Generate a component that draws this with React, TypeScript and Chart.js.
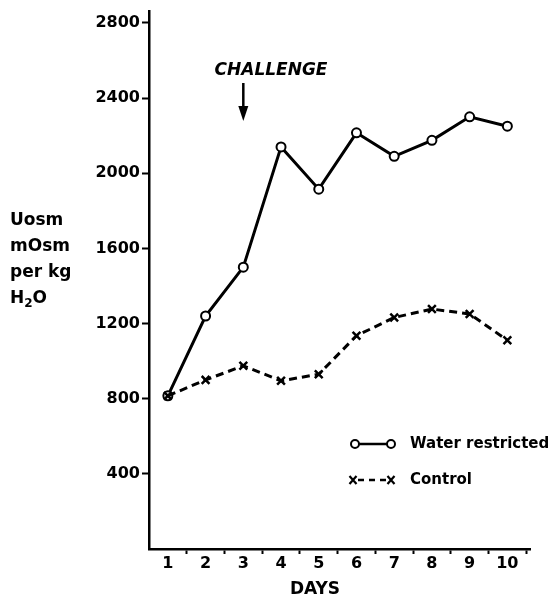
import React, { useEffect, useRef } from "react";
import { Chart, registerables } from "chart.js";

Chart.register(...registerables);

const days = [1, 2, 3, 4, 5, 6, 7, 8, 9, 10];
const waterRestricted = [815, 1240, 1500, 2140, 1915, 2215, 2090, 2175, 2300, 2250];
const control = [815, 900, 975, 895, 930, 1135, 1232, 1277, 1251, 1111];
const yTickValues = [0, 400, 800, 1200, 1600, 2000, 2400, 2800];
const xTickValues = [1, 1.5, 2, 2.5, 3, 3.5, 4, 4.5, 5, 5.5, 6, 6.5, 7, 7.5, 8, 8.5, 9, 9.5, 10, 10.5];
const yTitleLines = ["Uosm", "mOsm", "per kg"];
const challengeLabel = "CHALLENGE";
const challengeDay = 3;
const xTitle = "DAYS";
const legendLabels = ["Water restricted", "Control"];

const FONT = "'DejaVu Sans', sans-serif";

const annotations = {
  id: "annotations",
  afterDraw(chart: any) {
    const ctx = chart.ctx as CanvasRenderingContext2D;
    const xs = chart.scales.x;
    ctx.save();
    ctx.fillStyle = "#000";
    ctx.strokeStyle = "#000";

    // Y title
    ctx.font = `bold 17px ${FONT}`;
    ctx.textAlign = "left";
    ctx.textBaseline = "middle";
    const ys = [221, 247, 273];
    yTitleLines.forEach((t, i) => ctx.fillText(t, 10, ys[i]));
    // H2O
    let x = 10;
    const y4 = 299;
    ctx.fillText("H", x, y4);
    x += ctx.measureText("H").width;
    ctx.font = `bold 12px ${FONT}`;
    ctx.fillText("2", x, y4 + 5);
    x += ctx.measureText("2").width;
    ctx.font = `bold 17px ${FONT}`;
    ctx.fillText("O", x, y4);

    // X title
    ctx.font = `bold 17px ${FONT}`;
    ctx.textAlign = "center";
    ctx.fillText(xTitle, 315, 590);

    // Challenge
    const ax = xs.getPixelForValue(challengeDay);
    ctx.font = `italic bold 17px ${FONT}`;
    ctx.fillText(challengeLabel, 271, 71);
    ctx.lineWidth = 2.5;
    ctx.beginPath();
    ctx.moveTo(ax, 83);
    ctx.lineTo(ax, 110);
    ctx.stroke();
    ctx.beginPath();
    ctx.moveTo(ax - 5, 106);
    ctx.lineTo(ax + 5, 106);
    ctx.lineTo(ax, 121);
    ctx.closePath();
    ctx.fill();

    // Legend
    ctx.lineWidth = 2.5;
    const ly1 = 444;
    ctx.beginPath();
    ctx.moveTo(355, ly1);
    ctx.lineTo(391, ly1);
    ctx.stroke();
    ctx.lineWidth = 2;
    [355, 391].forEach((cx) => {
      ctx.beginPath();
      ctx.arc(cx, ly1, 4, 0, Math.PI * 2);
      ctx.fillStyle = "#fff";
      ctx.fill();
      ctx.stroke();
    });
    const ly2 = 480;
    ctx.lineWidth = 2.5;
    ctx.setLineDash([6, 5]);
    ctx.beginPath();
    ctx.moveTo(358, ly2);
    ctx.lineTo(387, ly2);
    ctx.stroke();
    ctx.setLineDash([]);
    ctx.lineWidth = 2.2;
    [353, 391].forEach((cx) => {
      ctx.beginPath();
      ctx.moveTo(cx - 3.5, ly2 - 4);
      ctx.lineTo(cx + 3.5, ly2 + 4);
      ctx.moveTo(cx + 3.5, ly2 - 4);
      ctx.lineTo(cx - 3.5, ly2 + 4);
      ctx.stroke();
    });
    ctx.fillStyle = "#000";
    ctx.font = `bold 15px ${FONT}`;
    ctx.textAlign = "left";
    ctx.fillText(legendLabels[0], 410, ly1);
    ctx.fillText(legendLabels[1], 410, ly2);
    ctx.restore();
  },
};

export default function App() {
  const ref = useRef<HTMLCanvasElement | null>(null);
  useEffect(() => {
    if (!ref.current) return;
    const chart = new Chart(ref.current, {
      type: "line",
      data: {
        datasets: [
          {
            label: legendLabels[1],
            data: days.map((d, i) => ({ x: d, y: control[i] })),
            borderColor: "#000",
            borderWidth: 3,
            borderDash: [8, 5],
            pointStyle: "crossRot",
            pointRadius: 5.5,
            pointBorderWidth: 2.5,
            pointBorderColor: "#000",
            pointBackgroundColor: "#000",
            fill: false,
            tension: 0,
          },
          {
            label: legendLabels[0],
            data: days.map((d, i) => ({ x: d, y: waterRestricted[i] })),
            borderColor: "#000",
            borderWidth: 3,
            pointStyle: "circle",
            pointRadius: 4.5,
            pointBorderWidth: 2,
            pointBorderColor: "#000",
            pointBackgroundColor: "#fff",
            fill: false,
            tension: 0,
          },
        ],
      },
      options: {
        animation: false,
        responsive: false,
        layout: { padding: { top: 8, right: 22, left: 0, bottom: 0 } },
        plugins: { legend: { display: false }, tooltip: { enabled: false } },
        scales: {
          x: {
            type: "linear",
            min: 0.5,
            max: 10.6,
            afterBuildTicks: (s: any) => {
              s.ticks = xTickValues.map((v) => ({ value: v }));
            },
            afterFit: (s: any) => {
              s.height = 53;
            },
            ticks: {
              autoSkip: false,
              maxRotation: 0,
              padding: 0,
              color: "#000",
              font: { family: FONT, size: 16, weight: "bold" },
              callback: (v: any) => (Number.isInteger(v) ? String(v) : ""),
            },
            grid: {
              drawOnChartArea: false,
              tickLength: 5,
              tickWidth: 2,
              tickColor: (c: any) =>
                c.tick && Number.isInteger(c.tick.value) ? "rgba(0,0,0,0)" : "#000",
            },
            border: { display: true, color: "#000", width: 2.5 },
          },
          y: {
            type: "linear",
            min: 0,
            max: 2860,
            afterBuildTicks: (s: any) => {
              s.ticks = yTickValues.map((v) => ({ value: v }));
            },
            afterFit: (s: any) => {
              s.width = 149;
            },
            ticks: {
              padding: 2,
              color: "#000",
              font: { family: FONT, size: 16, weight: "bold" },
              callback: (v: any) => (v === 0 ? "" : String(v)),
            },
            grid: {
              drawOnChartArea: false,
              tickLength: 7,
              tickWidth: 2,
              tickColor: (c: any) => (c.tick && c.tick.value === 0 ? "rgba(0,0,0,0)" : "#000"),
            },
            border: { display: true, color: "#000", width: 2.5 },
          },
        },
      },
      plugins: [annotations],
    } as any);
    return () => chart.destroy();
  }, []);
  return (
    <div style={{ position: "absolute", left: 0, top: 0, width: 552, height: 602, background: "#fff" }}>
      <canvas ref={ref} width={552} height={602} />
    </div>
  );
}
